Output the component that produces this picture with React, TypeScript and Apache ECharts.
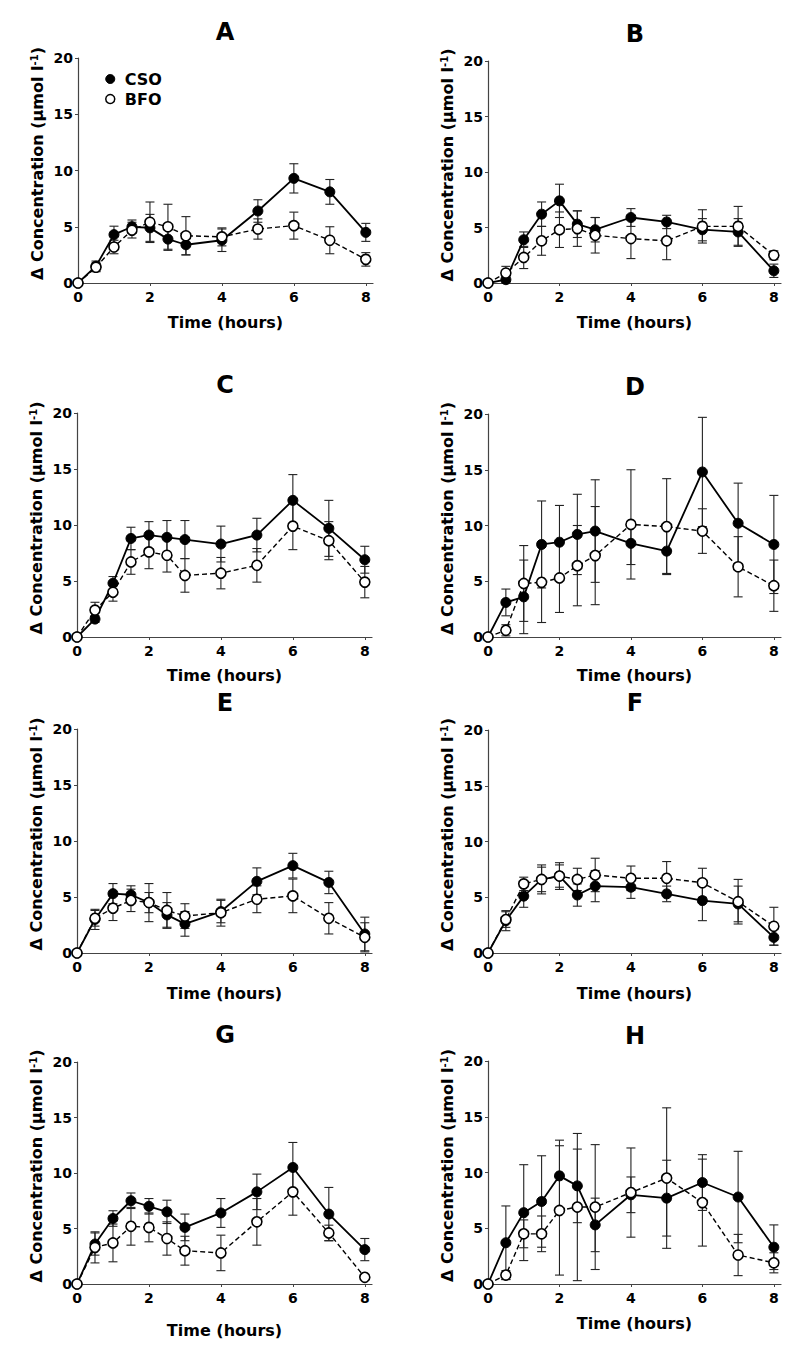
import React, { useEffect, useRef } from 'react';
import * as echarts from 'echarts';

// Time points (hours)
const TIME = [0, 0.5, 1, 1.5, 2, 2.5, 3, 4, 5, 6, 7, 8];
const X_TICKS = [0, 2, 4, 6, 8];

// Panel A
const A_CSO = [0, 1.5, 4.3, 5.0, 4.9, 3.9, 3.4, 3.8, 6.4, 9.3, 8.1, 4.5];
const A_CSO_ERR = [0, 0.45, 0.75, 0.6, 1.2, 1.0, 0.9, 1.0, 1.0, 1.3, 1.1, 0.8];
const A_BFO = [0, 1.4, 3.2, 4.7, 5.4, 5.0, 4.2, 4.1, 4.8, 5.1, 3.8, 2.1];
const A_BFO_ERR = [0, 0.4, 0.6, 0.7, 1.8, 2.0, 1.7, 0.8, 0.9, 1.2, 1.2, 0.6];

// Panel B
const B_CSO = [0, 0.3, 3.9, 6.2, 7.4, 5.3, 4.8, 5.9, 5.5, 4.8, 4.6, 1.1];
const B_CSO_ERR = [0, 0.3, 0.7, 1.1, 1.5, 1.2, 1.1, 0.8, 0.6, 1.0, 1.2, 0.6];
const B_BFO = [0, 0.9, 2.3, 3.8, 4.8, 4.9, 4.3, 4.0, 3.8, 5.1, 5.1, 2.5];
const B_BFO_ERR = [0, 0.6, 1.0, 1.3, 1.6, 1.6, 1.6, 1.8, 1.7, 1.5, 1.8, 0.4];

// Panel C
const C_CSO = [0, 1.6, 4.8, 8.8, 9.1, 8.9, 8.7, 8.3, 9.1, 12.2, 9.7, 6.9];
const C_CSO_ERR = [0, 0.3, 0.6, 1.0, 1.2, 1.5, 1.7, 1.6, 1.5, 2.3, 2.5, 1.2];
const C_BFO = [0, 2.4, 4.0, 6.7, 7.6, 7.3, 5.5, 5.7, 6.4, 9.9, 8.6, 4.9];
const C_BFO_ERR = [0, 0.7, 0.8, 1.1, 1.5, 1.5, 1.5, 1.4, 1.5, 2.1, 1.7, 1.4];

// Panel D
const D_CSO = [0, 3.1, 3.6, 8.3, 8.5, 9.2, 9.5, 8.4, 7.7, 14.8, 10.2, 8.3];
const D_CSO_ERR = [0, 1.2, 3.3, 3.9, 3.3, 3.6, 4.6, 1.9, 2.0, 4.9, 3.6, 4.4];
const D_BFO = [0, 0.6, 4.8, 4.9, 5.3, 6.4, 7.3, 10.1, 9.9, 9.5, 6.3, 4.6];
const D_BFO_ERR = [0, 0.5, 3.4, 3.6, 3.1, 3.6, 4.4, 4.9, 4.3, 2.0, 2.7, 2.3];

// Panel E
const E_CSO = [0, 3.0, 5.3, 5.2, 4.5, 3.4, 2.6, 3.7, 6.4, 7.8, 6.3, 1.7];
const E_CSO_ERR = [0, 0.9, 0.9, 0.8, 0.9, 1.1, 1.1, 1.0, 1.2, 1.1, 1.0, 1.5];
const E_BFO = [0, 3.1, 4.0, 4.7, 4.5, 3.8, 3.3, 3.6, 4.8, 5.1, 3.1, 1.4];
const E_BFO_ERR = [0, 0.7, 1.1, 1.0, 1.7, 1.6, 1.1, 1.2, 1.2, 1.5, 1.4, 1.3];

// Panel F
const F_CSO = [0, 2.9, 5.1, 6.6, 6.9, 5.2, 6.0, 5.9, 5.3, 4.7, 4.4, 1.4];
const F_CSO_ERR = [0, 0.9, 1.0, 1.1, 1.0, 1.0, 1.4, 1.0, 0.7, 1.8, 1.6, 0.7];
const F_BFO = [0, 3.0, 6.2, 6.6, 6.9, 6.6, 7.0, 6.7, 6.7, 6.3, 4.6, 2.4];
const F_BFO_ERR = [0, 0.7, 0.6, 1.3, 1.2, 1.0, 1.5, 1.1, 1.5, 1.3, 2.0, 1.7];

// Panel G
const G_CSO = [0, 3.6, 5.9, 7.5, 7.0, 6.5, 5.1, 6.4, 8.3, 10.5, 6.3, 3.1];
const G_CSO_ERR = [0, 1.0, 0.7, 0.7, 0.7, 1.05, 1.2, 1.3, 1.6, 2.25, 2.4, 1.0];
const G_BFO = [0, 3.3, 3.7, 5.2, 5.1, 4.1, 3.0, 2.8, 5.6, 8.3, 4.6, 0.6];
const G_BFO_ERR = [0, 1.4, 1.7, 1.7, 1.3, 1.5, 1.3, 1.6, 2.1, 2.1, 0.7, 0.2];

// Panel H
const H_CSO = [0, 3.7, 6.4, 7.4, 9.7, 8.8, 5.3, 8.0, 7.7, 9.1, 7.8, 3.3];
const H_CSO_ERR = [0, 3.3, 4.3, 4.1, 3.2, 3.3, 2.4, 1.6, 3.4, 2.5, 4.1, 2.0];
const H_BFO = [0, 0.8, 4.5, 4.5, 6.6, 6.9, 6.9, 8.2, 9.5, 7.3, 2.6, 1.9];
const H_BFO_ERR = [0, 0.4, 1.25, 1.6, 5.8, 6.6, 5.6, 4.0, 6.3, 3.9, 1.85, 0.9];

const PANELS = [
  { label: 'A', cso: A_CSO, csoErr: A_CSO_ERR, bfo: A_BFO, bfoErr: A_BFO_ERR },
  { label: 'B', cso: B_CSO, csoErr: B_CSO_ERR, bfo: B_BFO, bfoErr: B_BFO_ERR },
  { label: 'C', cso: C_CSO, csoErr: C_CSO_ERR, bfo: C_BFO, bfoErr: C_BFO_ERR },
  { label: 'D', cso: D_CSO, csoErr: D_CSO_ERR, bfo: D_BFO, bfoErr: D_BFO_ERR },
  { label: 'E', cso: E_CSO, csoErr: E_CSO_ERR, bfo: E_BFO, bfoErr: E_BFO_ERR },
  { label: 'F', cso: F_CSO, csoErr: F_CSO_ERR, bfo: F_BFO, bfoErr: F_BFO_ERR },
  { label: 'G', cso: G_CSO, csoErr: G_CSO_ERR, bfo: G_BFO, bfoErr: G_BFO_ERR },
  { label: 'H', cso: H_CSO, csoErr: H_CSO_ERR, bfo: H_BFO, bfoErr: H_BFO_ERR },
];

// Layout (pixels)
const LAYOUT = [
  { left: 78, top: 58, width: 295, height: 225, xGap: 31, tx: 225, ty: 32 },
  { left: 488, top: 61, width: 293, height: 222, xGap: 31, tx: 635, ty: 34 },
  { left: 77, top: 413, width: 295, height: 224, xGap: 30, tx: 225, ty: 385 },
  { left: 488, top: 414, width: 293, height: 223, xGap: 30, tx: 635, ty: 387 },
  { left: 77, top: 729, width: 295, height: 224, xGap: 32, tx: 225, ty: 703 },
  { left: 488, top: 730, width: 293, height: 223, xGap: 32, tx: 635, ty: 703 },
  { left: 77, top: 1062, width: 295, height: 222, xGap: 38, tx: 225, ty: 1035 },
  { left: 488, top: 1061, width: 293, height: 223, xGap: 31, tx: 635, ty: 1036 },
];

const FONT = '"DejaVu Sans", "Liberation Sans", Arial, sans-serif';
const AXIS_COLOR = '#444';

function errorBars(idx: number, name: string, means: number[], errs: number[]) {
  return {
    type: 'custom',
    name,
    xAxisIndex: idx,
    yAxisIndex: idx,
    z: 1,
    silent: true,
    encode: { x: 0, y: [1, 2] },
    data: TIME.map((t, i) => [t, means[i] - errs[i], means[i] + errs[i], errs[i]]),
    renderItem: (params: any, api: any) => {
      if (api.value(3) <= 0) return null;
      const x = api.value(0);
      const lo = api.coord([x, api.value(1)]);
      const hi = api.coord([x, api.value(2)]);
      const cap = 4.5;
      const style = { stroke: '#222', lineWidth: 1.1 };
      return {
        type: 'group',
        children: [
          { type: 'line', shape: { x1: lo[0], y1: lo[1], x2: hi[0], y2: hi[1] }, style },
          { type: 'line', shape: { x1: lo[0] - cap, y1: lo[1], x2: lo[0] + cap, y2: lo[1] }, style },
          { type: 'line', shape: { x1: hi[0] - cap, y1: hi[1], x2: hi[0] + cap, y2: hi[1] }, style },
        ],
      };
    },
  };
}

export default function App() {
  const ref = useRef<HTMLDivElement>(null);

  useEffect(() => {
    if (!ref.current) return;
    const chart = echarts.init(ref.current, null, { renderer: 'svg' });

    const grid = LAYOUT.map((l) => ({ left: l.left, top: l.top, width: l.width, height: l.height }));

    const xAxis = LAYOUT.map((l, i) => ({
      type: 'value',
      gridIndex: i,
      min: 0,
      max: 8.2,
      splitLine: { show: false },
      axisLine: { show: true, onZero: false, lineStyle: { color: AXIS_COLOR, width: 1.2 } },
      axisTick: { show: true, customValues: X_TICKS, length: 3, lineStyle: { color: AXIS_COLOR } },
      axisLabel: {
        customValues: X_TICKS,
        margin: 7,
        color: '#000',
        fontFamily: FONT,
        fontWeight: 'bold',
        fontSize: 14,
      },
      name: 'Time (hours)',
      nameLocation: 'middle',
      nameGap: l.xGap,
      nameTextStyle: { color: '#000', fontFamily: FONT, fontWeight: 'bold', fontSize: 16 },
    }));

    const yAxis = LAYOUT.map((l, i) => ({
      type: 'value',
      gridIndex: i,
      min: 0,
      max: 20,
      interval: 5,
      splitLine: { show: false },
      axisLine: { show: true, onZero: false, lineStyle: { color: AXIS_COLOR, width: 1.2 } },
      axisTick: { show: true, length: 3, lineStyle: { color: AXIS_COLOR } },
      axisLabel: {
        margin: 5,
        color: '#000',
        fontFamily: FONT,
        fontWeight: 'bold',
        fontSize: 14,
      },
      name: 'Δ Concentration (μmol l{sup|-1})',
      nameLocation: 'middle',
      nameRotate: 90,
      nameGap: 33,
      nameTextStyle: {
        color: '#000',
        fontFamily: FONT,
        fontWeight: 'bold',
        fontSize: 16,
        padding: [0, 0, 0, 14],
        rich: {
          sup: {
            fontFamily: FONT,
            fontWeight: 'bold',
            fontSize: 10,
            color: '#000',
            verticalAlign: 'top',
          },
        },
      },
    }));

    const series: any[] = [];
    PANELS.forEach((p, i) => {
      series.push(errorBars(i, 'CSO err', p.cso, p.csoErr));
      series.push(errorBars(i, 'BFO err', p.bfo, p.bfoErr));
      series.push({
        type: 'line',
        name: 'CSO',
        xAxisIndex: i,
        yAxisIndex: i,
        z: 3,
        data: TIME.map((t, k) => [t, p.cso[k]]),
        symbol: 'circle',
        symbolSize: 10,
        showSymbol: true,
        lineStyle: { color: '#000', width: 1.8, type: 'solid' },
        itemStyle: { color: '#000', borderColor: '#000', borderWidth: 1 },
      });
      series.push({
        type: 'line',
        name: 'BFO',
        xAxisIndex: i,
        yAxisIndex: i,
        z: 4,
        data: TIME.map((t, k) => [t, p.bfo[k]]),
        symbol: 'circle',
        symbolSize: 10,
        showSymbol: true,
        lineStyle: { color: '#000', width: 1.4, type: [5, 3] },
        itemStyle: { color: '#fff', borderColor: '#000', borderWidth: 1.6 },
      });
    });

    const graphic = PANELS.map((p, i) => ({
      type: 'text',
      x: LAYOUT[i].tx,
      y: LAYOUT[i].ty,
      style: {
        text: p.label,
        fontFamily: FONT,
        fontWeight: 'bold',
        fontSize: 24,
        fill: '#000',
        align: 'center',
        verticalAlign: 'middle',
      },
    }));

    chart.setOption({
      animation: false,
      backgroundColor: '#fff',
      grid,
      xAxis,
      yAxis,
      series,
      graphic,
      legend: {
        orient: 'vertical',
        left: 100,
        top: 66,
        itemGap: 4,
        itemWidth: 9,
        itemHeight: 9,
        selectedMode: false,
        data: [
          { name: 'CSO', icon: 'circle', itemStyle: { color: '#000', borderColor: '#000', borderWidth: 1 } },
          { name: 'BFO', icon: 'circle', itemStyle: { color: '#fff', borderColor: '#000', borderWidth: 1.5 } },
        ],
        textStyle: { color: '#000', fontFamily: FONT, fontWeight: 'bold', fontSize: 16, padding: [0, 0, 0, 5] },
      },
    });

    return () => chart.dispose();
  }, []);

  return (
    <div
      ref={ref}
      style={{ position: 'absolute', left: 0, top: 0, width: 800, height: 1361, background: '#fff' }}
    />
  );
}
